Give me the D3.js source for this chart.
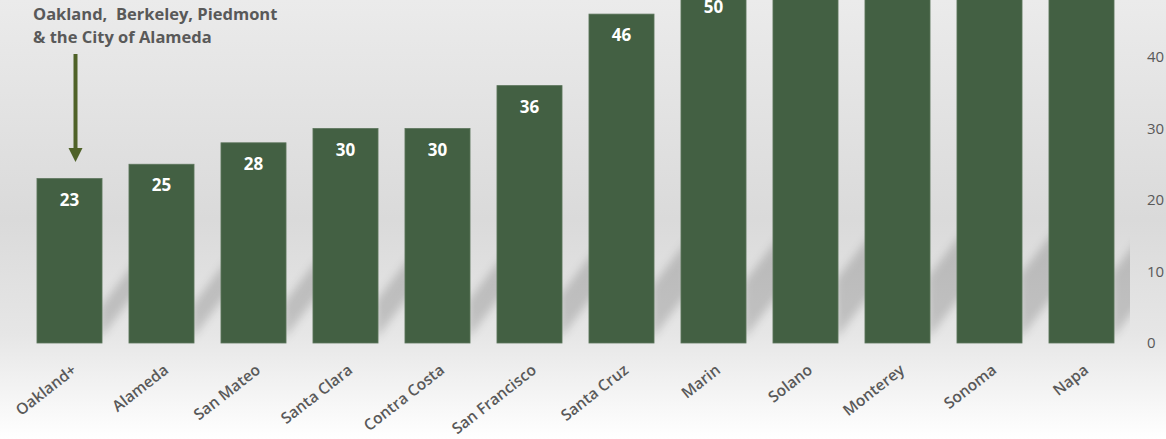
<!DOCTYPE html>
<html>
<head>
<meta charset="utf-8">
<script src="https://cdn.jsdelivr.net/npm/d3@7"></script>
<style>
  body { margin: 0; overflow: hidden; }
  svg { display: block; }
</style>
</head>
<body>
<div id="chart"></div>
<script>
// Data
var counties = ["Oakland+", "Alameda", "San Mateo", "Santa Clara", "Contra Costa", "San Francisco",
                "Santa Cruz", "Marin", "Solano", "Monterey", "Sonoma", "Napa"];
var values = [23, 25, 28, 30, 30, 36, 46, 50, 53, 56, 58, 60];
var yTicks = [0, 10, 20, 30, 40];
var note = ["Oakland,  Berkeley, Piedmont", "& the City of Alameda"];

var w = 1166, h = 439;
var base = 343;
var font = "'Open Sans', sans-serif";

var svg = d3.select("#chart").append("svg")
    .attr("width", w)
    .attr("height", h);

var defs = svg.append("defs");

// background
var bg = defs.append("linearGradient")
    .attr("id", "bg").attr("x1", 0).attr("y1", 0).attr("x2", 0).attr("y2", 1);
bg.append("stop").attr("offset", "0%").attr("stop-color", "#ebebeb");
bg.append("stop").attr("offset", "50%").attr("stop-color", "#dadada");
bg.append("stop").attr("offset", "76%").attr("stop-color", "#e6e6e6");
bg.append("stop").attr("offset", "100%").attr("stop-color", "#ffffff");

defs.append("filter").attr("id", "blur")
    .attr("x", "-50%").attr("y", "-50%").attr("width", "200%").attr("height", "200%")
    .append("feGaussianBlur").attr("stdDeviation", 4);

defs.append("clipPath").attr("id", "plot")
    .append("rect").attr("x", 0).attr("y", 0).attr("width", 1130).attr("height", base + 1);

svg.append("rect")
    .attr("width", w).attr("height", h)
    .attr("fill", "url(#bg)");

// scales
var x = d3.scaleBand()
    .domain(counties)
    .range([23.5, 1127.5])
    .paddingInner(0.293)
    .paddingOuter(0.1465);

var y = d3.scaleLinear()
    .domain([0, 40])
    .range([base, 57]);

var green = "#436043";

// soft slanted shadows to the right of each bar
var gap = x.step() - x.bandwidth();
svg.append("g")
    .attr("clip-path", "url(#plot)")
    .append("g")
    .attr("filter", "url(#blur)")
    .selectAll("polygon")
    .data(counties)
    .enter()
    .append("polygon")
    .attr("points", function (d, i) {
        var x1 = x(d) + x.bandwidth() - 2;
        var bh = Math.min(base - y(values[i]), 430);
        var sh = bh * 0.13 + 10;
        var run = gap + 8;
        var rise = run * 1.3;
        return [[x1, base - 4], [x1 + run, base - 4 - rise],
                [x1 + run, base - 4 - rise - sh], [x1, base - 4 - sh]].join(" ");
    })
    .attr("fill", "rgba(0,0,0,0.16)");

// bars
svg.append("g")
    .selectAll("rect")
    .data(counties)
    .enter()
    .append("rect")
    .attr("x", function (d) { return x(d); })
    .attr("y", function (d, i) { return y(values[i]); })
    .attr("width", x.bandwidth())
    .attr("height", function (d, i) { return base - y(values[i]); })
    .attr("fill", green)
    .attr("stroke", "#5d765c")
    .attr("stroke-width", 0.8);

// data labels (only the ones that land inside the picture)
svg.append("g")
    .selectAll("text")
    .data(counties.filter(function (d, i) { return y(values[i]) + 27 > 8; }))
    .enter()
    .append("text")
    .attr("x", function (d) { return x(d) + x.bandwidth() / 2; })
    .attr("y", function (d) { return y(values[counties.indexOf(d)]) + 27; })
    .attr("text-anchor", "middle")
    .style("font-family", font)
    .style("font-weight", "bold")
    .style("font-size", "17px")
    .style("fill", "#ffffff")
    .text(function (d) { return values[counties.indexOf(d)]; });

// right axis labels
var yAxis = svg.append("g")
    .attr("transform", "translate(1147,0)")
    .call(d3.axisRight(y).tickValues(yTicks).tickSize(0).tickPadding(0));
yAxis.select(".domain").remove();
yAxis.selectAll("text")
    .style("font-family", font)
    .style("font-size", "15px")
    .style("fill", "#595959");

// category labels
svg.append("g")
    .selectAll("text")
    .data(counties)
    .enter()
    .append("text")
    .attr("transform", function (d) {
        return "translate(" + (x(d) + x.bandwidth() / 2 + 8) + "," + (base + 29) + ") rotate(-38)";
    })
    .attr("text-anchor", "end")
    .style("font-family", font)
    .style("font-weight", "600")
    .style("font-size", "15.5px")
    .style("fill", "#595959")
    .text(function (d) { return d; });

// annotation
svg.append("g")
    .selectAll("text")
    .data(note)
    .enter()
    .append("text")
    .attr("x", 33)
    .attr("y", function (d, i) { return 20 + i * 23; })
    .style("font-family", font)
    .style("font-weight", "bold")
    .style("font-size", "16.5px")
    .style("fill", "#595959")
    .style("white-space", "pre")
    .text(function (d) { return d; });

var ax = x(counties[0]) + x.bandwidth() / 2 + 6;
svg.append("line")
    .attr("x1", ax).attr("x2", ax)
    .attr("y1", 54).attr("y2", 150)
    .attr("stroke", "#4f6228")
    .attr("stroke-width", 4);
svg.append("polygon")
    .attr("points", [[ax - 7, 148], [ax + 7, 148], [ax, 162]].join(" "))
    .attr("fill", "#4f6228");
</script>
</body>
</html>
